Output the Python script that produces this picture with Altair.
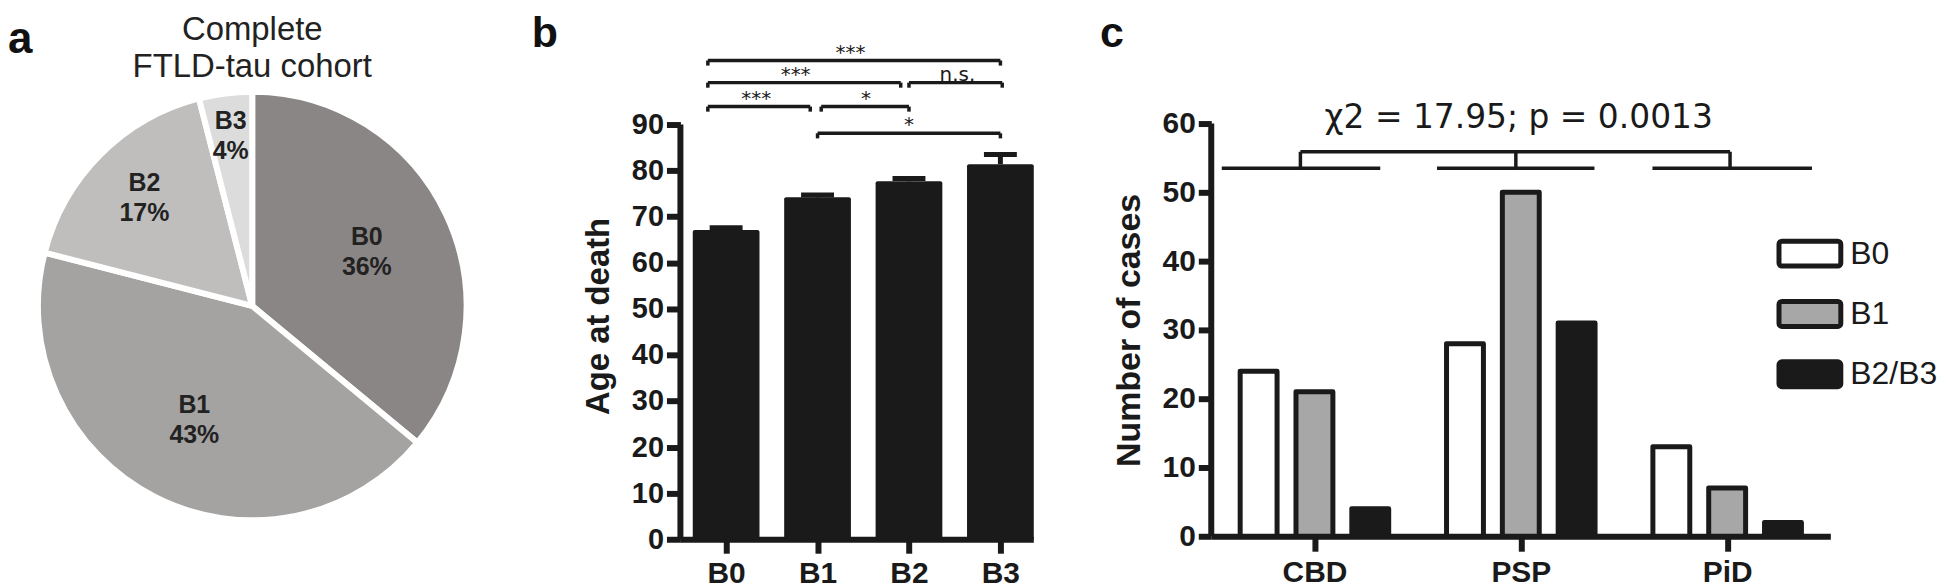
import altair as alt
import pandas as pd

INK = "#1a1a1a"
FONT = "Liberation Sans"

# ---------------- data ----------------
# panel a
pie_cats = ["B0", "B1", "B2", "B3"]
pie_pct = [36, 43, 17, 4]
pie_colors = ["#8a8685", "#a5a3a2", "#bfbebd", "#dcdcdc"]
pie_title = "Complete\nFTLD-tau cohort"

# panel b
age_cats = ["B0", "B1", "B2", "B3"]
age_mean = [67.1, 74.2, 77.7, 81.4]
age_sem = [0.5, 0.5, 0.6, 2.1]
age_ticks = [0, 10, 20, 30, 40, 50, 60, 70, 80, 90]

sig_x1 = [-0.2, -0.2, 2.0, -0.2, 1.04, 1.0]
sig_x2 = [3.0, 1.91, 3.02, 0.92, 2.0, 3.0]
sig_y = [103.9, 99.1, 99.1, 93.9, 93.9, 88.1]
sig_text = ["***", "***", "n.s.", "***", "*", "*"]
sig_text_x = [1.36, 0.76, 2.53, 0.33, 1.53, 2.0]

# panel c
dx_cats = ["CBD", "PSP", "PiD"]
stage_cats = ["B0", "B1", "B2/B3"]
cases_b0 = [24, 28, 13]
cases_b1 = [21, 50, 7]
cases_b23 = [4, 31, 2]
stage_colors = ["#ffffff", "#a8a7a8", "#1a1a1a"]
case_ticks = [0, 10, 20, 30, 40, 50, 60]

chi_text = ["χ2 = 17.95; p = 0.0013"]
chi_x = [0.99]
chi_y = [59.4]
grp_x1 = [-0.449, 0.594, 1.638]
grp_x2 = [0.319, 1.357, 2.411]
grp_stem = [-0.068, 0.976, 2.014]
grp_low = 53.5
grp_high = 55.9

# ---------------- panel a ----------------
A_W, A_H = 495.5, 532
CX, CY = 245, 298
R = 215

pie_df = pd.DataFrame({"cat": pie_cats, "pct": pie_pct, "order": list(range(len(pie_cats)))})
pie_df["label"] = [f"{c}\n{p}%" for c, p in zip(pie_cats, pie_pct)]

arcs = alt.Chart(pie_df).mark_arc(outerRadius=R, stroke="white", strokeWidth=6).encode(
    theta=alt.Theta("pct:Q", stack=True),
    order=alt.Order("order:Q"),
    color=alt.Color("cat:N", scale=alt.Scale(domain=pie_cats, range=pie_colors), legend=None),
    x=alt.value(CX), y=alt.value(CY),
)
pie_labels = alt.Chart(pie_df).transform_joinaggregate(
    total="sum(pct)"
).transform_window(
    cum="sum(pct)", sort=[alt.SortField("order")]
).transform_calculate(
    mid="2 * PI * (datum.cum - datum.pct / 2) / datum.total",
    r="datum.cat == 'B0' ? 127 : datum.cat == 'B1' ? 128 : datum.cat == 'B2' ? 153 : 172",
    lx=f"{CX} + datum.r * sin(datum.mid)",
    ly=f"{CY} - datum.r * cos(datum.mid)",
).mark_text(
    font=FONT, fontSize=25, fontWeight="bold", color="#222222",
    lineBreak="\n", lineHeight=30, baseline="middle", align="center", dy=-15,
).encode(
    text="label:N",
    x=alt.X("lx:Q", scale=None, axis=None),
    y=alt.Y("ly:Q", scale=None, axis=None),
)
a_title = alt.Chart(pd.DataFrame({"t": [pie_title]})).mark_text(
    font=FONT, fontSize=33, color="#222222", lineBreak="\n", lineHeight=37.5,
    align="center", baseline="alphabetic",
).encode(text="t:N", x=alt.value(CX), y=alt.value(31))
a_letter = alt.Chart(pd.DataFrame({"t": ["a"]})).mark_text(
    font=FONT, fontSize=44, fontWeight="bold", color="#111111", align="left", baseline="alphabetic",
).encode(text="t:N", x=alt.value(0), y=alt.value(44))

panel_a = alt.layer(arcs, pie_labels, a_title, a_letter).properties(width=A_W, height=A_H)

# ---------------- panel b ----------------
B_W, B_H = 354, 532
xb = alt.Scale(domain=[-0.5, 3.36], nice=False, zero=False)
yb = alt.Scale(domain=[0, 115.1], nice=False, zero=False)
b_label_expr = "[" + ",".join(f"'{c}'" for c in age_cats) + "][datum.value]"
ax_xb = alt.Axis(
    title=None, values=list(range(len(age_cats))), labelExpr=b_label_expr, grid=False,
    labelFont=FONT, labelFontSize=30, labelFontWeight="bold", labelColor=INK, labelPadding=5,
    tickSize=14, tickWidth=6, tickColor=INK, domainColor=INK, domainWidth=6,
)
ax_yb = alt.Axis(
    title="Age at death", values=age_ticks, domain=False, grid=False,
    labelFont=FONT, labelFontSize=29, labelFontWeight="bold", labelColor=INK, labelPadding=3,
    tickSize=14, tickWidth=6, tickColor=INK,
    titleFont=FONT, titleFontSize=33, titleFontWeight="bold", titleColor=INK,
    titleX=-82, titleY=308, titleAngle=270, titleAlign="center", titleBaseline="middle",
)

age_df = pd.DataFrame({"cat": age_cats, "i": list(range(len(age_cats))), "mean": age_mean, "sem": age_sem})

bars_b = alt.Chart(age_df).transform_calculate(
    xa="datum.i - 0.365", xz="datum.i + 0.365", base="0"
).mark_rect(color=INK, cornerRadiusTopLeft=2, cornerRadiusTopRight=2).encode(
    x=alt.X("xa:Q", scale=xb, axis=ax_xb), x2="xz:Q",
    y=alt.Y("mean:Q", scale=yb, axis=ax_yb), y2="base:Q",
)
err_rule = alt.Chart(age_df).transform_calculate(top="datum.mean + datum.sem").mark_rule(
    color=INK, strokeWidth=5
).encode(
    x=alt.X("i:Q", scale=xb, axis=ax_xb),
    y=alt.Y("mean:Q", scale=yb, axis=ax_yb), y2="top:Q",
)
err_cap = alt.Chart(age_df).transform_calculate(
    top="datum.mean + datum.sem", c1="datum.i - 0.18", c2="datum.i + 0.18"
).mark_rule(color=INK, strokeWidth=5).encode(
    x=alt.X("c1:Q", scale=xb, axis=ax_xb), x2="c2:Q",
    y=alt.Y("top:Q", scale=yb, axis=ax_yb),
)
yline_b = alt.Chart(pd.DataFrame({"lo": [age_ticks[0]], "hi": [age_ticks[-1]]})).mark_rule(
    color=INK, strokeWidth=6
).encode(x=alt.value(0), y=alt.Y("lo:Q", scale=yb, axis=ax_yb), y2="hi:Q")

seg_rows = []
for x1, x2, y in zip(sig_x1, sig_x2, sig_y):
    seg_rows.append(dict(x=x1, x2=x2, y=y, y2=y))
    seg_rows.append(dict(x=x1, x2=x1, y=y, y2=y - 1.1))
    seg_rows.append(dict(x=x2, x2=x2, y=y, y2=y - 1.1))
sig_segs = alt.Chart(pd.DataFrame(seg_rows)).mark_rule(color=INK, strokeWidth=3.5).encode(
    x=alt.X("x:Q", scale=xb, axis=ax_xb), x2="x2:Q",
    y=alt.Y("y:Q", scale=yb, axis=ax_yb), y2="y2:Q",
)
sig_labels = alt.Chart(pd.DataFrame({"x": sig_text_x, "y": sig_y, "t": sig_text})).mark_text(
    font="DejaVu Sans", fontSize=20, color=INK, baseline="alphabetic", align="center", dy=-2,
).encode(
    x=alt.X("x:Q", scale=xb, axis=ax_xb), y=alt.Y("y:Q", scale=yb, axis=ax_yb), text="t:N",
)
b_letter = alt.Chart(pd.DataFrame({"t": ["b"]})).mark_text(
    font=FONT, fontSize=43, fontWeight="bold", color="#111111", align="left", baseline="alphabetic",
).encode(text="t:N", x=alt.value(-149), y=alt.value(38))

panel_b = alt.layer(bars_b, err_rule, err_cap, yline_b, sig_segs, sig_labels, b_letter).properties(
    width=B_W, height=B_H
)

# ---------------- panel c ----------------
C_W, C_H = 621, 529
xc = alt.Scale(domain=[-0.5, 2.5], nice=False, zero=False)
yc = alt.Scale(domain=[0, 76.67], nice=False, zero=False)
c_label_expr = "[" + ",".join(f"'{c}'" for c in dx_cats) + "][datum.value]"
ax_xc = alt.Axis(
    title=None, values=list(range(len(dx_cats))), labelExpr=c_label_expr, grid=False,
    labelFont=FONT, labelFontSize=30, labelFontWeight="bold", labelColor=INK, labelPadding=6,
    tickSize=15, tickWidth=6, tickColor=INK, domainColor=INK, domainWidth=6,
)
ax_yc = alt.Axis(
    title="Number of cases", values=case_ticks, domain=False, grid=False,
    labelFont=FONT, labelFontSize=30, labelFontWeight="bold", labelColor=INK, labelPadding=3,
    tickSize=13, tickWidth=6, tickColor=INK,
    titleFont=FONT, titleFontSize=34, titleFontWeight="bold", titleColor=INK,
    titleX=-81.5, titleY=322, titleAngle=270, titleAlign="center", titleBaseline="middle",
)

rows = []
for si, (s, vals) in enumerate(zip(stage_cats, [cases_b0, cases_b1, cases_b23])):
    for gi, d in enumerate(dx_cats):
        rows.append(dict(dx=d, gi=gi, stage=s, si=si, n=vals[gi]))
case_df = pd.DataFrame(rows)

# rounded legend box (unit space, scaled by symbolSize)
legend_symbol = (
    "M-1.867,-0.833H1.867A0.2,0.2 0 0 1 2.067,-0.633V0.633A0.2,0.2 0 0 1 1.867,0.833"
    "H-1.867A0.2,0.2 0 0 1 -2.067,0.633V-0.633A0.2,0.2 0 0 1 -1.867,-0.833Z"
)
bars_c = alt.Chart(case_df).transform_calculate(
    xa="datum.gi + (datum.si - 1) * 0.2705 - 0.0894",
    xz="datum.gi + (datum.si - 1) * 0.2705 + 0.0894",
    base="0",
).mark_rect(stroke=INK, strokeWidth=5, strokeJoin="round").encode(
    x=alt.X("xa:Q", scale=xc, axis=ax_xc), x2="xz:Q",
    y=alt.Y("n:Q", scale=yc, axis=ax_yc), y2="base:Q",
    color=alt.Color("stage:N", scale=alt.Scale(domain=stage_cats, range=stage_colors), legend=alt.Legend(
        orient="none", legendX=583, legendY=228, title=None, padding=0,
        symbolType=legend_symbol, symbolSize=900, symbolStrokeColor=INK, symbolStrokeWidth=5,
        symbolOpacity=1, labelFont=FONT, labelFontSize=32, labelColor=INK, labelOffset=23,
        rowPadding=15.5,
    )),
)
yline_c = alt.Chart(pd.DataFrame({"lo": [case_ticks[0]], "hi": [case_ticks[-1]]})).mark_rule(
    color=INK, strokeWidth=6
).encode(x=alt.value(0), y=alt.Y("lo:Q", scale=yc, axis=ax_yc), y2="hi:Q")

cseg = []
for x1, x2, sx in zip(grp_x1, grp_x2, grp_stem):
    cseg.append(dict(x=x1, x2=x2, y=grp_low, y2=grp_low))
    cseg.append(dict(x=sx, x2=sx, y=grp_low, y2=grp_high))
cseg.append(dict(x=grp_stem[0], x2=grp_stem[-1], y=grp_high, y2=grp_high))
c_segs = alt.Chart(pd.DataFrame(cseg)).mark_rule(color=INK, strokeWidth=3.5).encode(
    x=alt.X("x:Q", scale=xc, axis=ax_xc), x2="x2:Q",
    y=alt.Y("y:Q", scale=yc, axis=ax_yc), y2="y2:Q",
)
chi = alt.Chart(pd.DataFrame({"x": chi_x, "y": chi_y, "t": chi_text})).mark_text(
    font="DejaVu Sans", fontSize=33, color=INK, baseline="alphabetic", align="center",
).encode(x=alt.X("x:Q", scale=xc, axis=ax_xc), y=alt.Y("y:Q", scale=yc, axis=ax_yc), text="t:N")
c_letter = alt.Chart(pd.DataFrame({"t": ["c"]})).mark_text(
    font=FONT, fontSize=43, fontWeight="bold", color="#111111", align="left", baseline="alphabetic",
).encode(text="t:N", x=alt.value(-111.5), y=alt.value(38))

panel_c = alt.layer(bars_c, yline_c, c_segs, chi, c_letter).properties(width=C_W, height=C_H)

chart = alt.hconcat(panel_a, panel_b, panel_c, spacing=178.5, bounds="flush").resolve_scale(
    color="independent"
).properties(padding=0).configure_view(strokeWidth=0)

chart.save("out.html", embed_options={"renderer": "svg", "actions": False})
